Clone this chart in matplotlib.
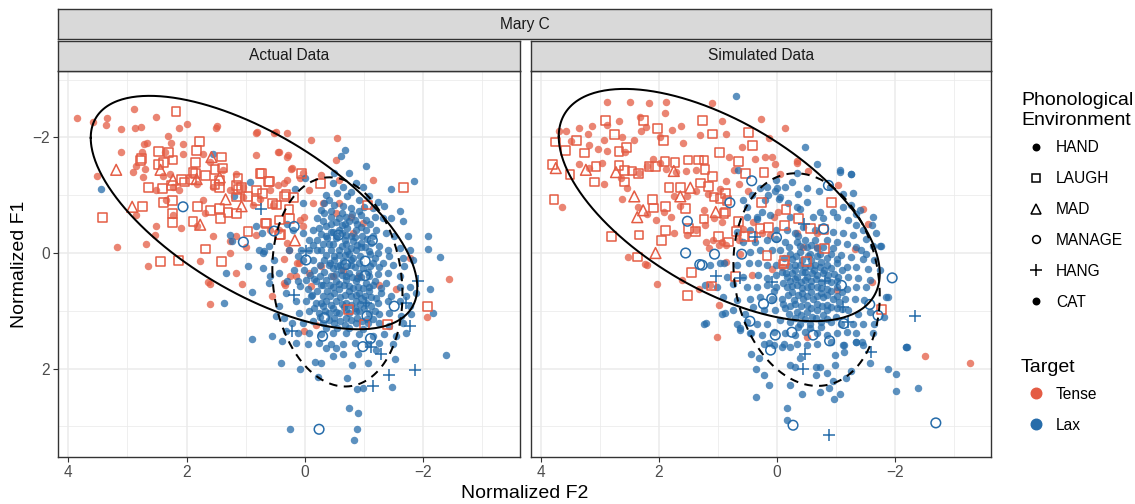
import numpy as np
import matplotlib
matplotlib.use("Agg")
import matplotlib.pyplot as plt
from matplotlib.lines import Line2D

plt.rcParams['font.family'] = ['Liberation Sans', 'DejaVu Sans']

# ---------------- data ----------------
speaker = "Mary C"
panel_titles = ["Actual Data", "Simulated Data"]
environments = ["HAND", "LAUGH", "MAD", "MANAGE", "HANG", "CAT"]
targets = ["Tense", "Lax"]
x_ticks = [4, 2, 0, -2]
y_ticks = [-2, 0, 2]

# (Normalized F2, Normalized F1)
actual_tense_hand = [
    (3.85,-2.34),(3.59,-2.27),(3.35,-2.33),(3.37,-2.22),(3.11,-2.14),(2.89,-2.50),(2.88,-2.17),(2.77,-2.18),
    (2.51,-2.36),(2.12,-2.16),(2.00,-2.24),(1.51,-2.16),(0.82,-2.07),(0.53,-2.08),(0.31,-2.07),(2.31,-2.02),
    (2.26,-1.91),(2.06,-1.89),(3.11,-1.74),(2.72,-1.89),(2.67,-1.90),(2.75,-1.74),(2.37,-1.74),(2.86,-1.50),
    (2.71,-1.46),(3.52,-1.34),(2.28,-1.37),(2.06,-1.71),(1.72,-1.71),(1.60,-1.57),(1.38,-1.43),(1.16,-1.37),
    (0.82,-1.69),(0.45,-1.75),(0.31,-1.67),(0.23,-1.45),(0.09,-1.29),(0.31,-1.26),(0.45,-1.17),(0.59,-1.09),
    (1.05,-0.97),(1.27,-1.09),(1.55,-1.14),(1.83,-1.20),(2.12,-1.09),(2.34,-0.91),(2.51,-1.09),(2.74,-1.31),
    (2.23,-0.66),(2.51,-0.46),(2.85,-0.66),(2.54,-0.31),(2.68,-0.16),(3.17,-0.11),(2.10,-0.43),(1.83,-0.46),
    (1.55,-0.29),(1.27,-0.20),(1.16,-0.29),(0.82,-0.31),(0.59,-0.40),(2.65,0.22),(1.78,0.13),(1.16,0.34),
    (1.64,0.51),(1.07,0.53),(1.27,0.00),(0.99,-0.11),(0.25,0.40),(0.14,0.17),(0.31,-0.17),(0.09,-0.57),
    (0.76,-0.94),(0.54,-0.83),(0.88,-0.83),(1.05,-1.14),(1.72,-0.91),(1.69,-0.69),(2.23,-1.14),(2.39,-1.34),
    (2.90,-1.40),(1.61,0.88),(1.61,0.54),(-2.43,0.45),(-2.07,1.11),(-1.77,0.09),(-1.16,-1.26),(-0.55,-1.99),
    (-0.11,-1.96),(0.49,-2.09),(0.81,-2.09),(1.48,-2.19),(0.44,-1.75),(0.29,-1.70),(0.21,-1.47),(0.35,-1.21),
    (0.04,-1.38),(-0.27,-1.35),(-0.58,-1.26),(-0.53,-1.61),(-0.07,-1.09),(-0.13,-0.86),(-0.30,-0.86),
    (-0.53,-0.69),(-0.58,-0.86),(-0.78,-0.63),(-0.81,-0.34),(-0.98,-0.52),(0.01,-0.63),(0.04,-0.46),
    (0.44,-0.40),(0.27,-0.06),(0.35,0.11),(0.10,0.17),(-0.07,0.34),(-0.27,0.23),(0.15,0.40),(-0.10,0.57),
    (0.55,0.75),(0.35,0.52),(-0.47,0.40),(-0.64,0.29),(-0.92,0.40),(-1.26,0.55),(-1.54,0.63),(0.01,1.35),
    (-0.19,1.24),(0.33,0.55),
]
actual_tense_laugh = [
    (2.18,-2.45),(1.78,-1.93),(1.83,-1.77),(2.48,-1.76),(2.31,-1.74),(2.23,-1.61),(2.76,-1.64),(2.78,-1.60),
    (2.48,-1.53),(2.39,-1.57),(1.85,-1.57),(1.41,-1.66),(1.52,-1.45),(1.39,-1.47),(1.89,-1.40),(1.85,-1.38),
    (1.68,-1.34),(1.44,-1.26),(1.52,-1.18),(1.44,-1.14),(1.16,-1.17),(1.13,-1.10),(0.76,-1.37),(0.62,-1.24),
    (0.82,-1.09),(0.71,-1.03),(0.96,-0.98),(1.16,-0.97),(0.06,-1.37),(0.34,-0.98),(0.19,-0.96),(0.55,-0.86),
    (0.48,-0.83),(0.43,-0.57),(0.43,-0.31),(0.26,-0.60),(0.65,-0.51),(0.96,-0.37),(1.16,-0.69),(1.30,-0.70),
    (1.44,-0.77),(1.43,-0.60),(1.59,-0.74),(1.81,-0.80),(1.89,-0.54),(2.24,-0.68),(2.24,-0.53),(2.24,-0.91),
    (2.39,-0.87),(2.65,-1.13),(2.41,-1.11),(2.74,-0.81),(3.42,-0.61),(1.68,-0.07),(2.44,0.15),(2.14,0.13),
    (1.41,0.15),(0.82,-0.91),(2.03,-1.23),(2.09,-1.27),(1.92,-1.27),(2.26,-1.17),(1.07,-1.14),(1.13,-1.29),
    (-0.27,-1.20),(-1.06,-0.83),(-1.67,-1.14),(-0.74,0.98),(-1.01,1.24),(-1.40,1.24),(-2.07,0.92),(0.60,-1.24),
    (0.32,-1.01),(0.27,-0.75),(0.66,-0.52),(0.41,-0.32),(0.73,-1.38),
]
actual_tense_mad = [
    (3.19,-1.44),(2.92,-0.80),(1.77,-0.49),(1.58,-1.66),(2.23,-1.27),(2.44,-1.44),(1.44,-1.31),(1.34,-0.93),
    (1.07,-0.81),(0.17,-0.22),(1.83,-1.28),
]
actual_lax_hand = [
    (-0.67,-1.78),(-0.61,-1.68),(-1.03,-1.51),(-1.46,-1.10),(-1.84,-1.24),(-0.50,-1.39),(-0.75,-1.38),(-0.86,-1.21),
    (-0.47,-1.21),(-0.64,-1.14),(-0.98,-1.15),(-0.78,-1.06),(-0.55,-1.04),(-0.72,-0.98),(-0.36,-1.01),(-0.33,-0.86),
    (-0.41,-0.92),(-0.92,-0.92),(-1.09,-0.98),(-1.23,-0.89),(-1.34,-0.81),(-1.15,-0.78),(-0.92,-0.72),(-0.78,-0.78),
    (-0.64,-0.81),(-0.50,-0.83),(-1.60,-0.72),(-1.66,-0.56),(-1.46,-0.60),(-1.32,-0.60),(-1.18,-0.63),(-1.03,-0.58),
    (-0.95,-0.66),(-0.84,-0.58),(-0.69,-0.63),(-0.58,-0.60),(-0.44,-0.63),(-0.33,-0.69),(-0.21,-0.60),(-0.13,-0.40),
    (-0.24,-0.43),(-0.36,-0.46),(-0.47,-0.37),(-0.58,-0.40),(-0.72,-0.43),(-0.86,-0.40),(-1.03,-0.40),(-1.20,-0.40),
    (-1.37,-0.35),(-1.51,-0.29),(-1.74,-0.29),(-2.08,-0.29),(-2.08,-0.07),(-2.28,0.07),(-0.07,-0.23),(-0.21,-0.23),
    (-0.38,-0.26),(-0.53,-0.26),(-0.67,-0.23),(-0.81,-0.20),(-0.95,-0.17),(-1.12,-0.17),(-1.26,-0.12),(-1.40,-0.06),
    (-1.60,-0.09),(-1.77,-0.06),(0.07,-0.06),(-0.07,-0.06),(-0.27,-0.06),(-0.44,-0.06),(-0.58,-0.06),(-0.72,-0.03),
    (-0.86,-0.06),(-1.09,-0.03),(-1.23,0.00),(-1.43,0.06),(-1.66,0.09),(-1.82,0.12),(0.04,0.12),(-0.13,0.12),
    (-0.33,0.12),(-0.50,0.12),(-0.64,0.14),(-0.78,0.12),(-0.92,0.17),(-1.15,0.17),(-1.32,0.17),(-1.49,0.20),
    (-1.68,0.23),(0.18,0.29),(0.01,0.29),(-0.16,0.29),(-0.33,0.32),(-0.47,0.26),(-0.61,0.29),(-0.75,0.35),
    (-0.92,0.35),(-1.06,0.32),(-1.23,0.37),(-1.40,0.35),(-1.60,0.40),(0.12,0.49),(-0.02,0.46),(-0.19,0.49),
    (-0.36,0.46),(-0.53,0.49),(-0.69,0.46),(-0.86,0.49),(-1.03,0.52),(-1.18,0.49),(-1.37,0.52),(-1.60,0.58),
    (-1.77,0.58),(-2.11,0.63),(-0.05,0.63),(-0.21,0.66),(-0.38,0.66),(-0.58,0.63),(-0.75,0.66),(-0.92,0.69),
    (-1.09,0.66),(-1.29,0.69),(-1.46,0.75),(-1.71,0.75),(-1.88,0.69),(0.15,0.83),(-0.02,0.83),(-0.19,0.86),
    (-0.36,0.83),(-0.53,0.83),(-0.69,0.86),(-0.86,0.83),(-1.03,0.86),(-1.23,0.86),(-1.40,0.83),(-1.60,0.83),
    (-1.77,0.92),(-1.80,1.06),(-2.16,1.04),(0.10,1.04),(-0.07,1.01),(-0.24,1.04),(-0.41,1.04),(-0.58,1.04),
    (-0.75,1.04),(-0.92,1.01),(-1.09,1.04),(-1.26,1.06),(-1.43,1.04),(-1.63,1.09),(0.44,0.92),(0.35,1.12),
    (0.21,1.21),(0.04,1.21),(-0.13,1.18),(-0.30,1.21),(-0.50,1.21),(-0.67,1.24),(-0.86,1.21),(-1.06,1.21),
    (-1.26,1.21),(-1.43,1.27),(-1.66,1.21),(0.32,1.35),(0.12,1.38),(-0.07,1.38),(-0.27,1.41),(-0.47,1.38),
    (-0.69,1.38),(-0.92,1.41),(-1.15,1.44),(-1.34,1.41),(-1.54,1.44),(0.38,1.52),(0.15,1.55),(-0.05,1.58),
    (-0.24,1.55),(-0.44,1.58),(-0.64,1.58),(-0.84,1.55),(-1.06,1.58),(-1.26,1.55),(-1.49,1.58),
    (0.90,1.48),(0.40,1.91),(0.08,2.01),(-0.22,2.14),(-0.72,2.17),(-0.88,2.36),(-0.98,2.33),(-1.48,2.31),
    (-2.39,1.77),(-0.75,2.69),(-0.89,2.76),(0.25,3.05),(-0.88,3.05),(-0.83,3.24),(-0.17,1.88),(-0.28,1.91),
    (-0.79,1.94),(-1.07,1.90),(-1.52,1.84),(-1.71,1.39),(-0.48,1.79),(-0.65,1.74),(-0.36,1.65),(-0.53,1.65),
    (-0.90,1.74),(-1.21,1.68),
    (3.45,-1.10),(0.93,-1.23),(1.55,-1.71),(1.19,-0.98),(1.27,-0.31),(1.24,-0.20),(0.96,0.23),(1.33,0.35),
    (0.77,-0.06),(0.71,0.00),(0.82,-0.46),(1.37,0.87),(0.90,0.67),(0.69,-0.03),(0.60,-0.12),(0.72,-0.35),
    (0.52,0.12),(0.44,0.35),(0.60,0.52),(0.32,0.69),(0.49,1.09),(0.55,1.44),(0.31,-0.51),(0.20,-0.40),
    (0.03,-0.34),(0.26,-0.06),(0.11,0.06),(0.71,0.26),(0.59,0.40),(0.31,0.49),(0.09,0.57),(0.03,-0.86),
    (0.17,-1.11),(0.00,-1.29),
    (-0.45,-0.50),(-0.62,-0.48),(-0.75,-0.55),(-0.55,-0.30),(-0.70,-0.32),(-0.85,-0.28),(-0.40,-0.15),(-0.62,-0.12),
    (-0.78,-0.08),(-0.95,-0.10),(-0.50,0.05),(-0.68,0.03),(-0.82,0.08),(-0.40,0.20),(-0.55,0.22),(-0.70,0.22),
    (-0.85,0.25),(-0.45,0.40),(-0.62,0.38),(-0.80,0.42),(-0.95,0.42),(-0.30,0.55),(-0.48,0.58),(-0.66,0.56),
    (-0.82,0.60),(-0.98,0.60),(-0.42,0.74),(-0.60,0.76),(-0.78,0.74),(-0.95,0.78),(-1.12,0.76),(-0.30,0.92),
    (-0.48,0.95),(-0.66,0.93),(-0.84,0.95),(-1.00,0.95),(-0.50,1.12),(-0.70,1.13),(-0.88,1.12),(-1.05,1.14),
    (-0.25,1.10),(-0.35,-0.30),(-0.20,-0.05),(-0.15,0.45),(-0.10,0.75),(-1.15,0.55),(-1.25,0.25),(-1.10,0.02),
    (-1.05,-0.25),(-0.95,-0.45),
    (-0.28,-0.75),(-0.45,-0.72),(-0.62,-0.70),(-0.80,-0.68),(-1.00,-0.80),(-0.30,-0.55),(-0.52,-0.53),(-0.68,-0.50),
    (-0.88,-0.50),(-1.10,-0.50),(-0.28,-0.33),(-0.44,-0.36),(-0.62,-0.34),(-0.78,-0.30),(-0.97,-0.30),(-1.15,-0.30),
    (-0.14,-0.14),(-0.30,-0.15),(-0.48,-0.16),(-0.70,-0.15),(-0.88,-0.14),(-1.02,-0.10),(-0.36,0.04),(-0.57,0.03),
    (-0.75,0.02),(-0.93,0.06),(-1.18,0.08),(-0.25,0.20),(-0.42,0.18),(-0.60,0.20),(-0.78,0.20),(-0.98,0.26),
    (-1.10,0.22),(-0.08,0.38),(-0.26,0.39),(-0.52,0.36),(-0.70,0.40),(-0.88,0.43),(-1.08,0.40),(-0.28,0.56),
    (-0.42,0.56),(-0.58,0.54),(-0.75,0.57),(-0.90,0.58),(-1.08,0.58),(-1.28,0.60),(-0.12,0.72),(-0.30,0.74),
    (-0.50,0.70),(-0.68,0.73),(-0.86,0.72),(-1.02,0.74),(-1.20,0.78),(-0.28,0.86),(-0.45,0.90),(-0.62,0.88),
    (-0.78,0.90),(-0.94,0.88),(-1.12,0.92),(-0.16,0.96),(-0.34,1.00),(-0.52,1.02),(-0.70,0.98),(-0.86,1.00),
    (-1.18,1.00),(-0.40,1.16),(-0.60,1.18),(-0.78,1.16),(-0.96,1.17),(-1.15,1.15),(-0.35,1.30),(-0.55,1.30),
    (-0.75,1.30),(-0.98,1.32),
]
actual_lax_manage = [
    (2.06,-0.80),(1.04,-0.19),(0.18,-0.46),(-1.14,-0.22),(-1.02,0.14),(-1.02,0.39),(-1.51,0.92),(-1.05,1.09),
    (-0.33,1.12),(-0.02,0.12),(-0.69,0.20),(-0.24,3.05),(-0.30,1.44),(-0.98,1.62),(-1.11,1.48),(0.52,-0.38),
    (-0.57,-0.31),
]
actual_lax_hang = [
    (0.74,-0.77),(-0.02,-0.03),(0.18,0.72),(-1.91,0.49),(-1.71,0.87),(-1.77,1.27),(0.22,1.35),(-1.03,0.86),
    (-1.42,2.11),(-1.16,2.30),(-1.87,2.03),(-1.29,1.75),(-1.11,1.62),
]

sim_tense_hand = [
    (2.88,-2.62),(2.50,-2.61),(2.17,-2.59),(1.88,-2.62),(1.10,-2.59),(1.90,-2.42),(2.33,-2.36),(2.68,-2.29),
    (2.88,-2.22),(3.13,-2.19),(3.35,-2.16),(3.70,-2.11),(3.57,-2.12),(3.21,-2.06),(2.93,-1.96),(2.62,-2.00),
    (2.31,-2.12),(2.22,-2.18),(1.99,-2.00),(1.78,-2.13),(1.62,-2.20),(1.30,-2.05),(0.93,-2.29),(0.87,-2.06),
    (0.28,-2.32),(-0.14,-2.16),(0.59,-1.83),(0.37,-1.63),(0.20,-1.66),(0.14,-1.99),(3.49,-1.93),(3.18,-1.87),
    (3.04,-1.80),(2.88,-1.76),(2.58,-1.74),(2.42,-1.96),(1.60,-1.90),(3.35,-1.54),(2.96,-1.55),(3.18,-1.47),
    (2.94,-1.19),(2.65,-1.30),(2.54,-1.13),(2.34,-1.38),(2.20,-1.50),(2.11,-1.63),(1.99,-1.55),(1.89,-1.46),
    (1.72,-1.40),(1.55,-1.42),(1.38,-1.44),(0.82,-1.66),(0.73,-1.43),(0.09,-1.66),(0.03,-1.54),(3.64,-0.80),
    (2.62,-0.94),(2.20,-0.67),(2.05,-0.58),(2.35,-0.80),(1.92,-0.71),(1.80,-0.62),(1.64,-0.81),(1.75,-0.98),
    (1.52,-0.98),(1.38,-1.08),(1.17,-1.03),(0.96,-1.11),(0.87,-1.24),(0.65,-1.20),(0.49,-1.08),(1.24,-0.74),
    (1.07,-0.61),(0.93,-0.54),(1.38,-0.39),(1.52,-0.31),(1.75,-0.34),(1.21,-0.19),(0.99,-0.14),(1.16,-0.08),
    (0.87,-0.14),(0.65,-0.22),(0.87,0.15),(0.62,0.01),(2.52,0.07),(2.23,0.19),(2.03,0.53),(1.61,0.47),
    (1.33,0.63),(-2.51,1.78),(-3.27,1.90),(-1.45,-0.76),(-1.32,-0.07),(-1.60,0.50),(-1.03,-1.18),(-0.33,-1.60),
    (-0.50,1.45),(1.02,1.45),(1.13,0.55),(0.98,0.90),(2.21,0.21),(-0.05,-1.36),(-0.33,-1.56),(-0.53,-1.42),
    (-0.02,-0.71),(0.06,-0.63),(0.40,-0.54),(0.26,-0.34),(0.12,-0.31),(-0.33,-0.34),(-0.44,-0.11),(-0.67,-0.34),
    (-0.67,-0.11),(0.09,0.27),(0.43,0.38),(-0.08,0.24),(1.22,-0.48),(1.08,-0.22),(0.93,-0.19),(0.57,-0.42),
    (-1.54,-0.51),(-1.01,0.64),
]
sim_tense_laugh = [
    (2.91,-2.30),(2.26,-2.29),(2.03,-2.16),(1.26,-2.30),(1.09,-2.06),(0.49,-2.09),(0.41,-1.86),(1.92,-1.95),
    (2.76,-2.05),(3.40,-1.95),(3.75,-1.92),(3.59,-1.77),(3.27,-1.73),(2.68,-1.76),(2.55,-1.82),(3.80,-1.53),
    (3.51,-1.36),(3.07,-1.50),(3.10,-1.23),(2.68,-1.51),(2.59,-1.43),(2.46,-1.42),(2.59,-1.23),(2.35,-1.38),
    (2.17,-1.50),(2.06,-1.50),(1.90,-1.59),(1.73,-1.57),(1.51,-1.61),(1.33,-1.61),(1.24,-1.61),(1.22,-1.44),
    (0.98,-1.74),(0.65,-1.58),(0.54,-1.38),(1.10,-1.32),(1.30,-1.21),(1.16,-1.15),(1.83,-1.13),(1.64,-1.13),
    (2.11,-0.92),(2.09,-0.78),(1.89,-0.81),(2.34,-0.31),(2.80,-0.29),(1.96,-0.21),(1.89,-0.39),(1.55,-0.77),
    (1.24,-0.59),(1.50,-0.42),(1.38,-0.37),(2.37,0.07),(3.78,-0.93),(1.07,-0.97),(0.96,-0.94),(0.87,-1.03),
    (0.85,-0.91),(0.90,-0.69),(0.87,-0.71),(0.65,-0.54),(0.69,-0.37),(0.55,-0.28),(0.42,-0.28),(0.82,-0.19),
    (0.99,-0.28),(0.71,0.41),(1.45,0.34),(1.52,0.74),(1.11,0.57),(0.22,-1.39),(0.26,-0.87),(-0.15,-0.75),
    (-0.36,-0.60),(-0.13,-0.48),(-0.56,-0.42),(-0.79,-0.41),(-0.81,-0.08),(-0.92,-0.87),(0.17,0.04),(-0.13,0.13),
    (-0.11,0.19),(-0.50,0.15),(-1.77,0.98),(0.15,-0.44),(0.29,-0.42),
]
sim_tense_mad = [
    (3.75,-1.47),(3.24,-1.44),(2.73,-1.40),(1.75,-1.42),(2.42,-0.98),(2.27,-0.74),(2.37,-0.62),(1.47,-1.13),
    (1.64,-0.98),(1.04,-0.71),(2.06,0.00),
]
sim_lax_hand = [
    (-0.67,-1.54),(-1.07,-1.40),(-1.26,-1.36),(-0.33,-1.39),(-0.25,-1.23),(0.01,-1.26),(0.17,-1.14),(0.00,-1.13),
    (-0.36,-1.03),(-0.50,-1.12),(-0.71,-1.08),(-0.89,-1.14),(-1.12,-1.03),(-1.29,-1.04),(-1.26,-0.83),(-1.40,-0.74),
    (-1.63,-0.63),(-1.60,-0.48),(-1.34,-0.68),(-1.12,-0.80),(-0.95,-0.71),(-0.73,-0.71),(-0.50,-0.89),(-0.33,-0.80),
    (-0.19,-0.86),(-0.05,-0.97),(0.15,-1.00),(0.29,-1.12),(0.43,-1.00),(0.57,-0.91),(0.51,-0.80),(0.51,-0.63),
    (0.34,-0.63),(0.12,-0.65),(-0.22,-0.63),(-0.39,-0.77),(-0.61,-0.63),(-0.78,-0.60),(-1.01,-0.63),(-1.20,-0.57),
    (-1.34,-0.48),(-1.46,-0.39),(-1.68,-0.34),(-1.74,-0.13),(0.68,-0.37),(0.46,-0.39),(0.01,-0.39),(-0.16,-0.39),
    (-0.30,-0.34),(-0.44,-0.45),(-0.64,-0.39),(-0.95,-0.37),(-1.12,-0.34),(-1.29,-0.31),(-1.51,-0.25),(-1.63,-0.13),
    (0.57,-0.19),(0.37,-0.19),(0.17,-0.22),(0.01,-0.25),(-0.13,-0.19),(-0.33,-0.19),(-0.47,-0.22),(-0.64,-0.22),
    (-0.84,-0.22),(-1.01,-0.19),(-1.18,-0.16),(-1.34,-0.11),(-1.51,0.01),(-1.43,-0.05),(0.46,-0.02),(0.29,-0.05),
    (0.09,-0.05),(-0.05,-0.05),(-0.22,0.01),(-0.39,-0.02),(-0.56,0.01),(-0.73,0.01),(-0.92,0.01),(-1.09,0.04),
    (-1.26,0.07),(-1.46,0.10),(-1.65,0.12),(1.13,0.21),(0.96,0.18),(0.68,0.21),(0.48,0.18),(0.32,0.18),
    (0.17,0.21),(0.01,0.21),(-0.30,0.21),(-0.47,0.24),(-0.64,0.21),(-0.84,0.21),(-1.01,0.18),(-1.18,0.24),
    (-1.34,0.24),(-1.54,0.27),(-1.74,0.30),(0.85,0.41),(0.57,0.41),(0.32,0.38),(0.17,0.44),(0.01,0.38),
    (-0.16,0.41),(-0.33,0.41),(-0.50,0.41),(-0.67,0.38),(-0.87,0.38),(-1.03,0.41),(-1.20,0.41),(-1.37,0.44),
    (-1.57,0.47),(1.22,0.56),(1.02,0.59),(0.74,0.53),(0.51,0.59),(0.34,0.59),(0.17,0.56),(0.01,0.59),
    (-0.16,0.59),(-0.33,0.56),(-0.50,0.59),(-0.67,0.59),(-0.84,0.62),(-1.01,0.59),(-1.18,0.62),(-1.34,0.59),
    (-1.51,0.59),(-1.85,0.76),(0.91,0.76),(0.68,0.82),(0.46,0.79),(0.29,0.76),(0.09,0.79),(-0.08,0.79),
    (-0.28,0.82),(-0.44,0.79),(-0.61,0.79),(-0.78,0.76),(-0.95,0.79),(-1.15,0.79),(-1.32,0.79),(-1.48,0.82),
    (0.93,1.05),(0.74,0.99),(0.54,1.05),(0.40,0.93),(0.23,0.99),(0.03,0.99),(-0.13,0.96),(-0.33,1.02),
    (-0.50,1.02),(-0.67,0.99),(-0.84,0.99),(-1.01,0.96),(-1.20,0.99),(-1.37,1.05),(-1.57,1.02),(-1.82,1.11),
    (0.68,1.22),(0.51,1.19),(0.34,1.22),(0.17,1.22),(-0.05,1.16),(-0.22,1.19),(-0.39,1.22),(-0.56,1.22),
    (-0.75,1.19),(-0.92,1.19),(-1.09,1.22),(-1.29,1.22),(-1.46,1.22),(-1.65,1.22),(0.62,1.34),(0.46,1.39),
    (0.26,1.42),(0.06,1.37),(-0.13,1.39),(-0.30,1.42),(-0.47,1.37),(-0.67,1.39),(-0.84,1.42),(-1.01,1.39),
    (-1.18,1.37),(-1.34,1.39),(0.23,1.57),(0.06,1.60),(-0.11,1.57),(-0.33,1.57),(-0.50,1.60),(-0.67,1.57),
    (-0.92,1.54),(-1.12,1.60),(-1.34,1.54),(-1.46,1.60),(-2.19,1.63),
    (1.23,1.23),(0.45,1.74),(0.30,1.82),(0.36,2.01),(0.23,2.11),(0.13,2.29),(0.36,2.49),(-0.17,2.69),
    (-0.16,2.89),(-0.22,2.29),(-0.43,2.44),(-0.73,2.40),(-0.88,2.33),(-0.96,2.53),(-1.06,2.44),(-0.94,2.21),
    (-1.17,2.17),(-1.26,2.05),(-0.84,2.07),(-0.66,1.97),(-0.72,1.97),(-0.98,1.94),(-0.22,1.94),(-0.30,1.97),
    (-0.39,1.82),(-0.66,2.11),(-0.98,1.77),(-1.14,1.71),(-1.14,1.59),(-1.34,1.54),(-1.44,1.54),(-1.57,1.91),
    (-1.88,2.00),(-2.02,2.10),(-2.01,2.38),(-2.38,2.34),(-2.20,1.63),(-1.62,1.39),(-0.22,1.62),(-0.08,1.62),
    (0.13,1.56),(0.63,1.30),(0.45,1.39),
    (0.69,-2.71),(-0.47,-1.84),(-1.25,-1.37),(-1.06,-1.43),(-1.76,-0.12),(-1.88,0.76),(-2.19,1.62),(1.20,1.21),
    (0.89,1.04),(0.66,-1.43),(0.90,0.18),(0.03,-1.08),(-0.14,-1.14),(0.25,-0.71),(0.20,-0.91),(-0.03,-0.94),
    (0.34,-0.59),
    (-0.25,0.10),(-0.42,0.12),(-0.58,0.12),(-0.75,0.15),(-0.30,0.30),(-0.48,0.32),(-0.62,0.30),(-0.80,0.30),
    (-0.22,0.48),(-0.40,0.50),(-0.58,0.48),(-0.75,0.50),(-0.92,0.50),(-0.25,0.68),(-0.42,0.70),(-0.58,0.68),
    (-0.75,0.70),(-0.30,0.88),(-0.50,0.90),(-0.68,0.88),(-0.85,0.90),(-0.40,1.08),(-0.60,1.10),(-0.78,1.08),
    (-0.20,1.05),(-0.50,-0.10),(-0.68,-0.08),(-0.35,-0.30),(-0.15,0.35),(-1.05,0.85),(0.05,0.65),(-0.10,0.88),
    (-0.20,-0.10),(-0.38,-0.12),(-0.58,-0.14),(-0.78,-0.10),(-0.95,-0.08),(-0.12,0.08),(-0.32,0.05),(-0.52,0.06),
    (-0.68,0.05),(-0.85,0.08),(-1.02,0.10),(-0.20,0.22),(-0.38,0.20),(-0.55,0.22),(-0.72,0.24),(-0.92,0.26),
    (-1.10,0.30),(-0.08,0.32),(-0.26,0.35),(-0.42,0.32),(-0.60,0.35),(-0.78,0.34),(-0.96,0.36),(-0.30,0.45),
    (-0.48,0.47),(-0.66,0.45),(-0.84,0.47),(-1.02,0.48),(-0.10,0.52),(-0.25,0.57),(-0.42,0.60),(-0.58,0.57),
    (-0.75,0.60),(-0.92,0.65),(-1.10,0.68),(-0.18,0.72),(-0.35,0.72),(-0.50,0.74),(-0.68,0.74),(-0.85,0.72),
    (-1.02,0.75),(-0.22,0.92),(-0.40,0.92),(-0.58,0.95),(-0.76,0.92),(-0.92,0.94),(-1.10,0.97),(-0.30,1.12),
    (-0.48,1.14),(-0.66,1.12),(-0.84,1.14),(-1.00,1.10),(-0.36,1.28),(-0.55,1.30),(-0.74,1.28),
]
sim_lax_manage = [
    (0.43,-1.25),(-0.87,-1.17),(0.80,-0.87),(-0.79,-0.42),(1.06,0.02),(0.60,0.02),(1.27,0.21),(0.01,-0.27),
    (-1.95,0.43),(-1.57,0.89),(-1.71,1.08),(-1.13,1.22),(0.46,1.18),(0.23,0.88),(0.03,1.42),(-0.25,1.37),
    (-1.09,0.56),(0.09,0.79),(1.52,-0.55),(1.55,0.00),(1.31,0.20),(-0.27,2.98),(-2.69,2.94),(0.11,1.68),
    (-0.89,1.52),(-0.61,1.42),
]
sim_lax_hang = [
    (1.03,0.40),(0.62,0.43),(0.09,0.50),(0.37,-0.27),(-0.81,0.48),(-1.12,0.93),(-1.20,1.19),(-2.33,1.09),
    (-0.45,-0.50),(-0.88,3.15),(-0.47,1.74),(-0.44,2.00),(-1.59,1.71),
]

# 95% ellipses: (centre F2, centre F1, half-extent F2, half-extent F1, correlation)
actual_tense_ellipse = (0.86, -0.70, 2.76, 2.02, -0.64)
actual_lax_ellipse = (-0.55, 0.50, 1.10, 1.81, -0.12)
sim_tense_ellipse = (0.98, -0.83, 2.72, 2.01, -0.59)
sim_lax_ellipse = (-0.50, 0.46, 1.24, 1.84, -0.15)

# ---------------- styling ----------------
TENSE = '#E45C44'
LAX = '#266CAA'
GRID = '#EBEBEB'
BORDER = '#333333'
W, H = 1135, 504

fig = plt.figure(figsize=(W / 100, H / 100), dpi=100)


def fx(px):
    return px / W


def fy(py):
    return 1 - py / H


panel_top, panel_bot = 71, 457
panels_x = [(58.2, 519.6), (531.0, 991.3)]


def draw_ellipse(ax, p, ls):
    cx, cy, sx, sy, rho = p
    t = np.linspace(0, 2 * np.pi, 400)
    x = cx + sx * np.cos(t)
    y = cy + sy * (rho * np.cos(t) + np.sqrt(1 - rho ** 2) * np.sin(t))
    ax.plot(x, y, color='black', lw=1.45, ls=ls, zorder=5,
            dashes=(4.2, 3.2) if ls == '--' else (None, None))


def xy(lst):
    a = np.array(lst, dtype=float)
    return a[:, 0], a[:, 1]


panel_data = [
    dict(th=actual_tense_hand, tl=actual_tense_laugh, tm=actual_tense_mad,
         lh=actual_lax_hand, lm=actual_lax_manage, lg=actual_lax_hang,
         et=actual_tense_ellipse, el=actual_lax_ellipse),
    dict(th=sim_tense_hand, tl=sim_tense_laugh, tm=sim_tense_mad,
         lh=sim_lax_hand, lm=sim_lax_manage, lg=sim_lax_hang,
         et=sim_tense_ellipse, el=sim_lax_ellipse),
]

for i, ((x0, x1), d, title) in enumerate(zip(panels_x, panel_data, panel_titles)):
    ax = fig.add_axes([fx(x0), fy(panel_bot), fx(x1 - x0), (panel_bot - panel_top) / H])
    ax.set_xlim(4.17, -3.63)
    ax.set_ylim(3.53, -3.15)
    ax.set_xticks(x_ticks)
    ax.set_xticklabels([str(v).replace('-', '\u2212') for v in x_ticks])
    ax.set_xticks([3, 1, -1, -3], minor=True)
    ax.set_yticks(y_ticks)
    ax.set_yticklabels([str(v).replace('-', '\u2212') for v in y_ticks])
    ax.set_yticks([-3, -1, 1, 3], minor=True)
    ax.grid(True, which='major', color=GRID, lw=1.1)
    ax.grid(True, which='minor', color=GRID, lw=0.55)
    ax.set_axisbelow(True)
    ax.tick_params(which='major', length=3.6, width=0.8, color=BORDER,
                   labelsize=11.2, labelcolor='#4D4D4D', pad=2.5)
    ax.tick_params(which='minor', length=0)
    if i == 1:
        ax.tick_params(axis='y', which='major', length=0, labelleft=False)
    for s in ax.spines.values():
        s.set_color(BORDER)
        s.set_linewidth(1.0)

    # filled points (HAND / CAT)
    x, y = xy(d['th'])
    ax.scatter(x, y, s=29, color=TENSE, alpha=0.75, linewidths=0, zorder=2)
    x, y = xy(d['lh'])
    ax.scatter(x, y, s=29, color=LAX, alpha=0.75, linewidths=0, zorder=2)
    # open shapes
    x, y = xy(d['tl'])
    ax.scatter(x, y, s=40, marker='s', facecolors='none', edgecolors=TENSE, linewidths=1.1, zorder=3)
    x, y = xy(d['tm'])
    ax.scatter(x, y, s=60, marker='^', facecolors='none', edgecolors=TENSE, linewidths=1.1, zorder=3)
    x, y = xy(d['lm'])
    ax.scatter(x, y, s=48, marker='o', facecolors='none', edgecolors=LAX, linewidths=1.1, zorder=3)
    x, y = xy(d['lg'])
    ax.scatter(x, y, s=85, marker='+', color=LAX, linewidths=1.1, zorder=3)

    draw_ellipse(ax, d['et'], '-')
    draw_ellipse(ax, d['el'], '--')

    # facet strip
    sax = fig.add_axes([fx(x0), fy(70.7), fx(x1 - x0), 30 / H])
    sax.set_facecolor('#D9D9D9')
    sax.set_xticks([]); sax.set_yticks([])
    for s in sax.spines.values():
        s.set_color(BORDER); s.set_linewidth(1.0)
    sax.text(0.5, 0.5, title, ha='center', va='center', fontsize=11.2, color='#1A1A1A',
             transform=sax.transAxes)

# top strip with speaker
tax = fig.add_axes([fx(58.2), fy(39.3), fx(991.3 - 58.2), 30 / H])
tax.set_facecolor('#D9D9D9')
tax.set_xticks([]); tax.set_yticks([])
for s in tax.spines.values():
    s.set_color(BORDER); s.set_linewidth(1.0)
tax.text(0.5, 0.5, speaker, ha='center', va='center', fontsize=11.2, color='#1A1A1A',
         transform=tax.transAxes)

# axis titles
fig.text(fx(524.7), fy(493), 'Normalized F2', ha='center', va='center', fontsize=14, color='black')
fig.text(fx(19.5), fy(264), 'Normalized F1', ha='center', va='center', rotation=90, fontsize=14,
         color='black')

# legends
env_markers = {'HAND': ('o', True, 4.6), 'LAUGH': ('s', False, 5.6), 'MAD': ('^', False, 7.0),
               'MANAGE': ('o', False, 5.6), 'HANG': ('+', False, 9.0), 'CAT': ('o', True, 4.6)}
h_env = []
for e in environments:
    m, filled, ms = env_markers[e]
    h_env.append(Line2D([], [], ls='', marker=m, markersize=ms, color='black',
                        mfc='black' if filled else 'none', mec='black', mew=1.1))
leg1 = fig.legend(h_env, environments, title='Phonological\nEnvironment', loc='upper left',
                  bbox_to_anchor=(fx(1021), fy(92)), frameon=False, fontsize=11.2, title_fontsize=14,
                  alignment='left', borderpad=0, borderaxespad=0, handlelength=1.9,
                  handletextpad=0.35, labelspacing=1.02)
leg1._legend_box.sep = 8.4

h_t = [Line2D([], [], ls='', marker='o', markersize=7.6, color=c) for c in (TENSE, LAX)]
leg2 = fig.legend(h_t, targets, title='Target', loc='upper left',
                  bbox_to_anchor=(fx(1021), fy(359)), frameon=False, fontsize=11.2, title_fontsize=14,
                  alignment='left', borderpad=0, borderaxespad=0, handlelength=1.9,
                  handletextpad=0.35, labelspacing=1.02)
leg2._legend_box.sep = 7.8

fig.savefig('out.png', dpi=100)
